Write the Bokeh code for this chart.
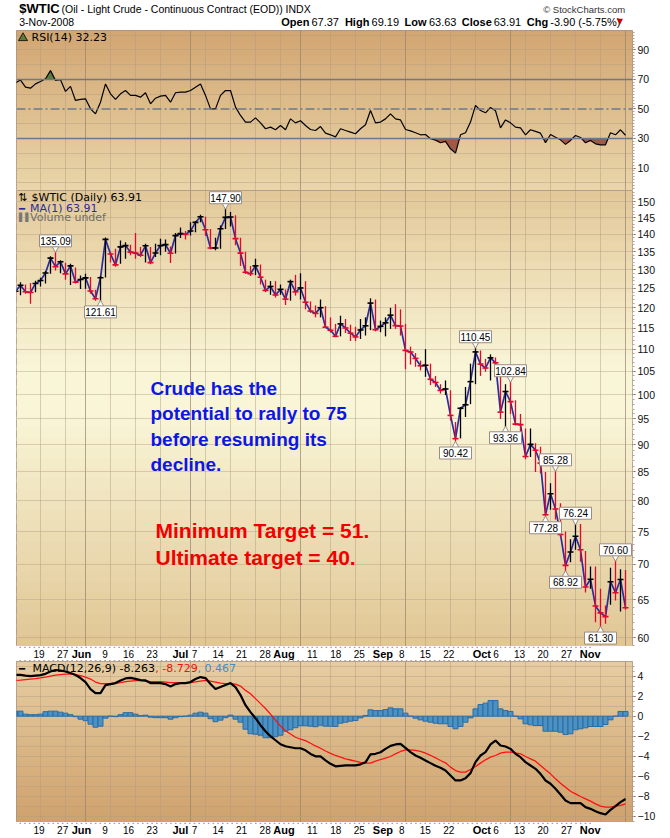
import numpy as np
from bokeh.plotting import figure
from bokeh.layouts import column
from bokeh.models import Range1d, FixedTicker, Grid, BoxAnnotation, Span, BasicTickFormatter
from bokeh.core.properties import value
from bokeh.embed import file_html
from bokeh.resources import INLINE

# ---------------- data (trading-day index 0 = 13 May 2008) ----------------
day = list(range(-1, 122))
close = [124.23, 125.80, 124.12, 123.90, 126.29, 127.05, 129.07, 133.17, 130.81, 132.19,
         128.85, 131.03, 126.62, 127.35, 127.76, 124.31, 122.30, 127.79, 138.54, 134.35,
         131.31, 136.38, 136.74, 134.86, 134.61, 134.01, 136.68, 131.93, 134.62, 136.74,
         137.00, 134.55, 139.64, 140.21, 140.00, 140.97, 143.57, 145.29, 141.37, 136.04,
         136.05, 141.65, 145.08, 145.18, 138.74, 134.60, 129.29, 128.88, 131.04, 127.95,
         124.44, 125.49, 123.26, 124.73, 122.19, 126.77, 124.08, 125.10, 121.41, 119.17,
         118.58, 120.02, 115.20, 114.45, 113.01, 116.00, 115.01, 113.77, 112.87, 114.53,
         115.54, 121.18, 114.59, 115.40, 116.27, 118.15, 115.59, 115.46, 109.71, 109.35,
         107.89, 106.23, 106.34, 103.26, 102.58, 100.87, 101.18, 95.71, 91.15, 97.16,
         97.88, 102.75, 109.37, 106.61, 105.73, 108.02, 106.89, 96.37, 100.64, 98.53,
         93.97, 93.88, 87.81, 90.06, 88.95, 86.59, 77.70, 81.19, 78.63, 74.54,
         69.85, 71.85, 74.25, 72.18, 66.75, 67.84, 64.15, 63.22, 62.73, 67.50,
         65.96, 67.81, 63.91]
high = [125.6, 126.6, 126.0, 126.4, 127.0, 127.8, 129.6, 133.7, 135.09, 132.6,
        131.9, 131.6, 130.6, 128.4, 128.9, 128.0, 124.6, 128.3, 139.1, 135.0,
        135.8, 138.2, 137.7, 137.0, 140.4, 136.3, 137.3, 136.3, 137.3, 138.7,
        138.5, 136.5, 140.4, 142.0, 141.0, 143.6, 144.0, 145.9, 145.3, 141.6,
        139.0, 142.6, 147.90, 146.7, 145.7, 139.0, 135.0, 131.0, 133.0, 131.4,
        127.3, 126.9, 126.9, 126.0, 124.7, 127.3, 128.6, 129.0, 126.9, 121.6,
        120.6, 122.1, 120.4, 117.6, 116.0, 118.0, 117.2, 115.8, 115.3, 117.2,
        117.6, 122.4, 122.1, 116.8, 117.6, 120.0, 120.9, 119.6, 116.0, 110.6,
        109.1, 107.4, 110.0, 106.7, 104.0, 102.2, 103.0, 100.9, 94.4, 97.4,
        101.6, 106.7, 110.45, 109.7, 107.8, 108.8, 108.1, 105.9, 102.2, 102.84,
        98.8, 96.0, 93.1, 93.1, 90.3, 89.6, 85.0, 83.0, 85.28, 79.6,
        75.0, 73.8, 76.24, 76.2, 72.0, 69.7, 69.7, 66.5, 64.2, 69.5,
        70.60, 69.3, 69.19]
low = [123.4, 123.2, 123.6, 121.0, 124.0, 125.5, 126.3, 128.9, 129.8, 129.0,
       127.3, 125.9, 126.3, 124.8, 124.9, 123.6, 121.8, 121.61, 127.9, 132.0,
       130.8, 131.6, 133.0, 134.0, 133.0, 133.5, 132.0, 131.5, 133.5, 134.0,
       135.0, 131.8, 134.5, 138.9, 138.5, 139.7, 140.6, 143.6, 139.5, 135.6,
       135.4, 135.8, 141.6, 142.3, 136.8, 131.0, 128.8, 128.3, 128.5, 126.0,
       124.0, 123.3, 122.6, 123.3, 120.7, 121.8, 123.1, 122.1, 119.6, 118.7,
       117.6, 117.6, 115.0, 113.9, 112.8, 113.0, 113.8, 111.9, 111.9, 112.4,
       113.2, 114.5, 114.2, 114.0, 113.0, 114.8, 114.8, 113.2, 105.5, 106.5,
       106.0, 105.2, 103.8, 102.0, 101.6, 100.2, 99.9, 94.7, 90.42, 91.2,
       95.4, 98.0, 102.2, 104.0, 104.9, 103.0, 105.2, 95.0, 93.36, 96.0,
       93.7, 91.2, 87.3, 87.7, 85.0, 84.7, 77.28, 78.5, 76.9, 74.1,
       68.92, 70.3, 72.2, 70.4, 66.0, 66.5, 62.0, 61.30, 61.8, 64.3,
       64.9, 63.4, 63.63]
rsi = [67.8, 69.6, 64.8, 64.1, 67.0, 68.6, 70.5, 76.0, 69.4, 69.8,
       61.9, 65.3, 55.8, 56.5, 56.9, 50.1, 46.7, 54.6, 67.0, 60.3,
       56.5, 60.3, 62.5, 59.2, 59.2, 58.0, 61.0, 53.5, 57.3, 58.7,
       59.2, 54.6, 61.0, 61.4, 61.4, 62.5, 64.8, 67.0, 59.2, 50.1,
       50.1, 59.2, 62.5, 62.5, 51.3, 45.6, 41.1, 41.1, 44.0, 40.6,
       36.6, 37.7, 35.9, 38.8, 35.9, 43.3, 40.6, 42.0, 38.8, 36.1,
       35.4, 38.1, 33.6, 32.5, 31.1, 36.6, 35.4, 34.3, 33.2, 36.6,
       39.3, 49.0, 40.6, 41.1, 43.3, 46.7, 43.3, 42.6, 36.1, 35.2,
       33.9, 32.5, 32.7, 29.8, 28.9, 27.1, 28.0, 23.0, 20.1, 32.5,
       33.9, 41.1, 52.4, 49.0, 47.4, 51.0, 48.8, 37.2, 42.6, 40.6,
       37.7, 37.2, 32.5, 35.9, 34.8, 33.6, 27.1, 32.7, 30.9, 29.1,
       26.0, 28.7, 32.0, 30.7, 27.1, 28.7, 26.4, 25.7, 25.7, 33.9,
       32.5, 35.9, 32.2]
macd = [4.12, 4.12, 4.05, 3.99, 4.05, 4.09, 4.22, 4.45, 4.6, 4.55,
        4.45, 4.3, 4.1, 3.8, 3.4, 2.7, 2.3, 2.3, 3.1, 3.2,
        3.3, 3.56, 3.76, 3.82, 3.72, 3.6, 3.56, 3.3, 3.3, 3.3,
        3.2, 2.97, 3.2, 3.3, 3.3, 3.4, 3.7, 3.9, 3.8, 3.2,
        2.7, 2.9, 3.1, 3.3, 2.9, 2.1, 1.1, 0.4, -0.2, -0.9,
        -1.5, -2.0, -2.4, -2.8, -3.0, -3.1, -3.2, -3.2, -3.4, -3.77,
        -4.0, -4.0, -4.4, -4.75, -5.0, -4.95, -4.9, -4.9, -4.9, -4.8,
        -4.6, -3.8, -3.75, -3.6, -3.26, -2.96, -2.82, -2.76, -3.16, -3.59,
        -3.92, -4.15, -4.42, -4.68, -4.95, -5.15, -5.42, -5.91, -6.41, -6.41,
        -6.18, -5.68, -4.58, -3.92, -3.59, -2.82, -2.43, -2.92, -3.02, -3.26,
        -3.75, -4.09, -4.58, -4.92, -5.25, -5.75, -6.41, -6.74, -7.24, -7.81,
        -8.41, -8.67, -8.67, -8.67, -9.07, -9.24, -9.47, -9.67, -9.80, -9.34,
        -8.97, -8.57, -8.26]
signal = [3.56, 3.6, 3.65, 3.7, 3.75, 3.82, 3.9, 4.0, 4.1, 4.15,
          4.2, 4.2, 4.15, 4.05, 3.9, 3.7, 3.4, 3.25, 3.23, 3.23,
          3.28, 3.35, 3.45, 3.5, 3.55, 3.55, 3.5, 3.45, 3.45, 3.45,
          3.4, 3.35, 3.33, 3.33, 3.33, 3.35, 3.42, 3.5, 3.56, 3.5,
          3.4, 3.3, 3.25, 3.25, 3.2, 3.0, 2.57, 2.24, 1.75, 1.25,
          0.76, 0.2, -0.4, -0.99, -1.45, -1.78, -2.1, -2.3, -2.44, -2.7,
          -2.97, -3.2, -3.47, -3.7, -3.92, -4.08, -4.25, -4.37, -4.49, -4.6,
          -4.68, -4.68, -4.49, -4.32, -4.19, -4.02, -3.75, -3.52, -3.36, -3.36,
          -3.42, -3.5, -3.69, -3.9, -4.15, -4.42, -4.65, -5.08, -5.42, -5.58,
          -5.58, -5.32, -5.02, -4.68, -4.35, -4.09, -3.92, -3.69, -3.59, -3.59,
          -3.65, -3.75, -4.02, -4.25, -4.49, -4.92, -5.35, -5.75, -6.25, -6.68,
          -7.08, -7.48, -7.74, -8.01, -8.24, -8.47, -8.74, -8.97, -9.07, -9.07,
          -8.97, -8.90, -8.74]
hist = [0.5, 0.5, 0.2, 0.15, 0.15, 0.2, 0.45, 0.5, 0.5, 0.4,
        0.3, 0.15, -0.05, -0.3, -0.45, -0.8, -1.1, -1.0, -0.2, 0.0,
        -0.05, 0.15, 0.35, 0.35, 0.2, 0.05, 0.1, -0.1, -0.15, -0.15,
        -0.15, -0.3, -0.15, -0.05, 0.0, 0.1, 0.3, 0.4, 0.3, -0.25,
        -0.55, -0.4, -0.15, 0.1, -0.3, -0.6, -1.3, -1.75, -1.8, -1.9,
        -2.15, -2.15, -2.05, -1.9, -1.5, -1.35, -1.15, -0.95, -0.95, -1.0,
        -1.05, -0.9, -1.0, -1.0, -1.03, -0.7, -0.6, -0.5, -0.43, -0.17,
        0.07, 0.63, 0.56, 0.56, 0.66, 0.83, 0.73, 0.73, 0.3, 0.0,
        -0.2, -0.37, -0.5, -0.6, -0.7, -0.76, -0.76, -1.03, -1.26, -1.03,
        -0.6, -0.17, 0.73, 1.16, 1.3, 1.56, 1.56, 0.73, 0.56, 0.47,
        0.0, -0.27, -0.76, -0.86, -0.93, -0.93, -1.5, -1.5, -1.5, -1.6,
        -1.83, -1.76, -1.36, -1.26, -1.16, -1.03, -1.03, -1.03, -0.83, -0.37,
        0.0, 0.47, 0.47]

tick_day = [4, 9, 13, 18, 23, 28, 34, 37, 42, 47, 52, 56, 62, 67, 72, 77, 81, 86, 91,
            98, 101, 106, 111, 116, 121]
tick_label = ["19", "27", "Jun", "9", "16", "23", "Jul", "7", "14", "21", "28", "Aug",
              "11", "18", "25", "Sep", "8", "15", "22", "Oct", "6", "13", "20", "27", "Nov"]
month_names = ["Jun", "Jul", "Aug", "Sep", "Oct", "Nov"]

peak_day = [7, 41, 91, 98, 107, 111, 119]
peak_price = [135.09, 147.90, 110.45, 102.84, 85.28, 76.24, 70.60]
trough_day = [16, 87, 97, 105, 109, 116]
trough_price = [121.61, 90.42, 93.36, 77.28, 68.92, 61.30]

price_ticks = [60, 65, 70, 75, 80, 85, 90, 95, 100, 105, 110, 115, 120, 125, 130, 135,
               140, 145, 150]
rsi_ticks = [10, 30, 50, 70, 90]
macd_ticks = [-10, -8, -6, -4, -2, 0, 2, 4]

# ---------------- layout helpers (page pixel coords == reference coords) ----------------
W = 670
LB, RB = 16, 38
SANS = "Liberation Sans"
VER = "DejaVu Sans"
RSI_LO, RSI_HI = -5.25, 103.2
P_LO, P_HI = 58.91, 153.51
M_LO, M_HI = -10.6, 5.45
MAIN_H = 456
PPL = MAIN_H / np.log(P_HI / P_LO)   # pixels per ln-unit on the price panel


def px_day(px):
    return (px - 20) / 5.0


def price_at(py):
    return P_HI * np.exp(-(py - 190) / PPL)


def rsi_at(py):
    return RSI_HI - (py - 30) * (RSI_HI - RSI_LO) / 160.0


def macd_at(py):
    return M_HI - (py - 661) * (M_HI - M_LO) / 161.0


def hx(c):
    return tuple(int(c[i:i + 2], 16) for i in (1, 3, 5))


def lerp_color(stops, t):
    for (t0, c0), (t1, c1) in zip(stops[:-1], stops[1:]):
        if t0 <= t <= t1:
            u = (t - t0) / (t1 - t0) if t1 > t0 else 0.0
            a, b = hx(c0), hx(c1)
            return "#%02x%02x%02x" % tuple(int(round(a[k] + (b[k] - a[k]) * u)) for k in range(3))
    return stops[-1][1]


def shade(p, lo, hi, stops, log=False, n=44):
    for k in range(n):
        f0 = max(0.0, k / n - 0.004)
        f1 = min(1.0, (k + 1) / n + 0.004)
        col = lerp_color(stops, (k + 0.5) / n)
        if log:
            top, bot = hi * (lo / hi) ** f0, hi * (lo / hi) ** f1
        else:
            top, bot = hi - (hi - lo) * f0, hi - (hi - lo) * f1
        p.add_layout(BoxAnnotation(top=top, bottom=bot, fill_color=col, fill_alpha=1.0,
                                   line_color=None, level="image"))


week_day = [d for d, l in zip(tick_day, tick_label) if l not in month_names]
month_day = [d for d, l in zip(tick_day, tick_label) if l in month_names]


def vgrids(p):
    p.add_layout(Grid(dimension=0, ticker=FixedTicker(ticks=week_day),
                      grid_line_color="#b09a80", grid_line_alpha=0.45))
    p.add_layout(Grid(dimension=0, ticker=FixedTicker(ticks=month_day),
                      grid_line_color="#98826f", grid_line_alpha=0.7))


def hgrid(p, ticks):
    p.add_layout(Grid(dimension=1, ticker=FixedTicker(ticks=ticks),
                      grid_line_color="#b09a80", grid_line_alpha=0.42))


def panel(h, lo, hi, log=False, top_border=0):
    p = figure(width=W, height=h, x_range=Range1d(-0.8, 122.4), y_range=Range1d(lo, hi),
               y_axis_type="log" if log else "linear",
               x_axis_location=None, y_axis_location="right",
               toolbar_location=None, output_backend="svg",
               min_border_left=LB, min_border_right=RB, min_border_top=top_border,
               min_border_bottom=0, background_fill_color="#efe0b8",
               border_fill_color="white", outline_line_color="#a58f86",
               outline_line_width=1)
    p.grid.visible = False
    ax = p.yaxis[0]
    ax.axis_line_color = None
    ax.major_tick_out = 3
    ax.major_tick_in = 0
    ax.major_tick_line_color = "#5a4a44"
    ax.minor_tick_out = 2
    ax.minor_tick_in = 0
    ax.minor_tick_line_color = "#b8a09a"
    ax.major_label_text_font = SANS
    ax.major_label_text_font_size = "10.5px"
    ax.major_label_text_color = "#111111"
    ax.major_label_standoff = 2
    return p


def clip_fill(xs, ys, lvl, above):
    ox, oy = [], []
    for k in range(len(xs)):
        if k > 0:
            a, b = ys[k - 1], ys[k]
            if (a - lvl) * (b - lvl) < 0:
                t = (lvl - a) / (b - a)
                ox.append(xs[k - 1] + t * (xs[k] - xs[k - 1]))
                oy.append(lvl)
        ox.append(xs[k])
        oy.append(max(ys[k], lvl) if above else min(ys[k], lvl))
    return ox, oy


def txt(p, x, y, s, size="11px", font=VER, color="black", style="normal",
        align="left", baseline="middle", **kw):
    p.text(x=[x], y=[y], text=[s], text_font=value(font), text_font_size=size,
           text_color=color, text_font_style=style, text_align=align,
           text_baseline=baseline, **kw)


# ---------------- header ----------------
HDR_H = 30
ph = figure(width=W, height=HDR_H, x_range=Range1d(0, W), y_range=Range1d(HDR_H, 0),
            x_axis_location=None, y_axis_location=None, toolbar_location=None,
            output_backend="svg", min_border_left=0, min_border_right=0,
            min_border_top=0, min_border_bottom=0, outline_line_color=None,
            background_fill_color="white", border_fill_color="white")
ph.grid.visible = False
txt(ph, 3, 8, "$WTIC", size="13px", font=SANS, style="bold")
txt(ph, 49, 8.5, "(Oil - Light Crude - Continuous Contract (EOD))  INDX", size="10.5px",
    font=SANS)
txt(ph, 662, 8.5, "\u00a9 StockCharts.com", size="9.5px", font=SANS, color="#333333",
    align="right")
txt(ph, 3, 21, "3-Nov-2008", size="10.5px", font=SANS)
hdr_parts = [("Open", 288.0, True), ("67.37", 320.8, False), ("High", 357.2, True),
             ("69.19", 386.2, False), ("Low", 422.0, True), ("63.63", 448.6, False),
             ("Close", 484.4, True), ("63.91", 519.0, False), ("Chg", 555.0, True),
             ("-3.90 (-5.75%)", 580.5, False)]
for s, xx, b in hdr_parts:
    txt(ph, xx, 21, s, size="11px", font=SANS, style="bold" if b else "normal")
txt(ph, 653, 21, "\u25bc", size="8px", font=VER, color="#cc0000")

# ---------------- RSI panel ----------------
pr = panel(160, RSI_LO, RSI_HI, top_border=0)
shade(pr, RSI_LO, RSI_HI, [(0, "#d2a571"), (1, "#e9d6aa")])
vgrids(pr)
hgrid(pr, [0, 10, 20, 40, 60, 80, 90, 100])
pr.yaxis.ticker = FixedTicker(ticks=rsi_ticks, minor_ticks=list(range(-4, 104, 2)))
for lv in (70, 30):
    pr.add_layout(Span(location=lv, dimension="width", line_color="#6d7987", line_width=1.4))
pr.add_layout(Span(location=50, dimension="width", line_color="#6d7987", line_width=1.3,
                   line_dash="9 3 2 3"))
gx, gy = clip_fill(day, rsi, 70, True)
pr.varea(x=gx, y1=gy, y2=70, fill_color="#5d7b3b")
bx, by = clip_fill(day, rsi, 30, False)
pr.varea(x=bx, y1=by, y2=30, fill_color="#9d5a44")
pr.line(day, rsi, color="black", line_width=1.2)
pr.scatter(x=[px_day(22.5)], y=[rsi_at(37.5)], marker="triangle", size=9,
           fill_color="#5d7b3b", line_color="black", line_width=0.8)
txt(pr, px_day(31), rsi_at(37), "RSI(14) 32.23")

# ---------------- price panel ----------------
pm = panel(MAIN_H, P_LO, P_HI, log=True)
shade(pm, P_LO, P_HI, [(0, "#e2c797"), (0.4, "#f9f6d8"), (0.5, "#f9f5d6"), (1, "#e0c695")],
      log=True)
vgrids(pm)
hgrid(pm, price_ticks)
pm.yaxis.ticker = FixedTicker(ticks=price_ticks, minor_ticks=list(range(59, 154)))
pm.yaxis.formatter = BasicTickFormatter()

bar_color = ["black"] + ["black" if close[k] >= close[k - 1] else "#e3072c"
                         for k in range(1, len(close))]
pm.line(day, close, color="#2c2c9c", line_width=1.7)
pm.segment(x0=day, y0=low, x1=day, y1=high, line_color=bar_color, line_width=1.3)
pm.scatter(x=day, y=close, marker="dash", size=6, line_color=bar_color, line_width=1.6)

# boxed value labels at swing highs / lows
BOX_OFF, TRI_OFF = 10.5, 3.0
pk_box_y = [v * np.exp(BOX_OFF / PPL) for v in peak_price]
tr_box_y = [v * np.exp(-BOX_OFF / PPL) for v in trough_price]
pm.scatter(x=peak_day, y=[v * np.exp(TRI_OFF / PPL) for v in peak_price],
           marker="inverted_triangle", size=7, fill_color="white", line_color="#9c8c80")
pm.scatter(x=trough_day, y=[v * np.exp(-TRI_OFF / PPL) for v in trough_price],
           marker="triangle", size=7, fill_color="white", line_color="#9c8c80")
pm.rect(x=peak_day + trough_day, y=pk_box_y + tr_box_y, width=32, height=12,
        width_units="screen", height_units="screen", fill_color="white",
        line_color="#9c8c80", line_width=1)
pm.text(x=peak_day + trough_day, y=pk_box_y + tr_box_y,
        text=["%.2f" % v for v in peak_price + trough_price],
        text_font=value(SANS), text_font_size="10px", text_color="black",
        text_align="center", text_baseline="middle")

txt(pm, px_day(17.5), price_at(197), "\u21c5", size="11px")
txt(pm, px_day(31), price_at(197), "$WTIC (Daily) 63.91")
txt(pm, px_day(18.5), price_at(207.5), "\u2501", size="10px", color="#2c2c9c")
txt(pm, px_day(29.5), price_at(207.5), "MA(1) 63.91", color="#2c2c9c")
txt(pm, px_day(18.5), price_at(217), "\u258c\u258c", size="8px", color="#777777")
txt(pm, px_day(29.5), price_at(217), "Volume undef", color="#6e6e6e")

txt(pm, px_day(150), price_at(377),
    "Crude has the\npotential to rally to 75\nbefore resuming its\ndecline.",
    size="19px", font=SANS, color="#0c16e6", style="bold", baseline="top",
    text_line_height=1.22)
txt(pm, px_day(155), price_at(518), "Minimum Target = 51.\nUltimate target = 40.",
    size="21px", font=SANS, color="#f20000", style="bold", baseline="top",
    text_line_height=1.18)


# ---------------- date strips ----------------
def strip(h, ylab, dot_rows):
    s = figure(width=W, height=h, x_range=Range1d(-0.8, 130.0), y_range=Range1d(0, h),
               x_axis_location=None, y_axis_location=None, toolbar_location=None,
               output_backend="svg", min_border_left=LB, min_border_right=0,
               min_border_top=0, min_border_bottom=0, outline_line_color=None,
               background_fill_color="white", border_fill_color="white")
    s.grid.visible = False
    nd = [(d, l) for d, l in zip(tick_day, tick_label) if l not in month_names]
    md = [(d, l) for d, l in zip(tick_day, tick_label) if l in month_names]
    s.text(x=[d for d, _ in nd], y=[ylab] * len(nd), text=[l for _, l in nd],
           text_font=value(SANS), text_font_size="10px", text_align="center",
           text_baseline="middle", text_color="black")
    s.text(x=[d for d, _ in md], y=[ylab] * len(md), text=[l for _, l in md],
           text_font=value(SANS), text_font_size="11px", text_font_style="bold",
           text_align="center", text_baseline="middle", text_color="black")
    for yy in dot_rows:
        s.scatter(x=day, y=[yy] * len(day), marker="square", size=1.6,
                  fill_color="#b39a98", line_color=None)
    return s


s1 = strip(15, 7.3, [14.2, 0.8])
s2 = strip(16, 8.8, [15.2])

# ---------------- MACD panel ----------------
pd_ = panel(161, M_LO, M_HI)
shade(pd_, M_LO, M_HI, [(0, "#e6cea2"), (1, "#cfa16d")])
vgrids(pd_)
hgrid(pd_, list(range(-10, 6)))
pd_.yaxis.ticker = FixedTicker(ticks=macd_ticks, minor_ticks=[k / 2 for k in range(-21, 11)])
pd_.vbar(x=day, top=hist, bottom=0, width=1.0, fill_color="#4b91c2", line_color="#2d6da3",
         line_width=1)
pd_.line(day, signal, color="#ff1010", line_width=1.3)
pd_.line(day, macd, color="black", line_width=2.2)
txt(pd_, px_day(18.5), macd_at(668), "\u2501", size="10px", color="black")
txt(pd_, px_day(32), macd_at(668), "MACD(12,26,9) -8.263")
txt(pd_, px_day(154.7), macd_at(668), ", -8.729", color="#ee1111")
txt(pd_, px_day(197.1), macd_at(668), ", 0.467", color="#3d8ec9")

layout = column(ph, pr, pm, s1, pd_, s2)
open("out.html", "w").write(file_html(layout, INLINE))
